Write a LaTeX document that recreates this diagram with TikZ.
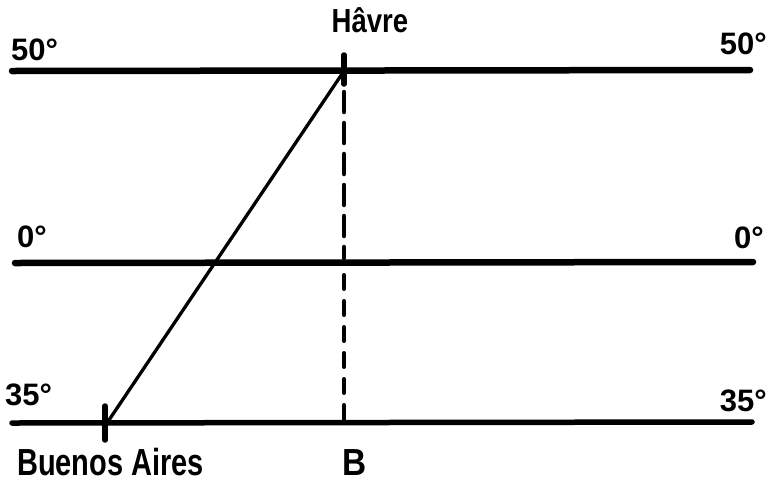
\documentclass[tikz,border=0pt]{standalone}
\usepackage{fontspec}
\usepackage{graphicx}
\setmainfont{Liberation Sans}
\begin{document}
\begin{tikzpicture}[x=1pt,y=-1pt,
  parallel/.style={line width=6.5pt,line cap=round},
  tickmark/.style={line width=5.5pt,line cap=round},
  route/.style={line width=3.3pt,line cap=round},
  meridianA/.style={line width=4.5pt,line cap=round,dash pattern=on 20pt off 11pt},
  meridianB/.style={line width=4pt,line cap=round,dash pattern=on 14pt off 12pt},
  lbl/.style={inner sep=0pt,font=\fontsize{31}{33}\selectfont\bfseries},
  placename/.style={inner sep=0pt,font=\fontsize{29}{31}\selectfont\bfseries}]
\useasboundingbox (0,0) rectangle (776,483);
% parallels
\coordinate (t1) at (12,71);  \coordinate (t2) at (750,70);
\coordinate (m1) at (15,263); \coordinate (m2) at (753,262);
\coordinate (b1) at (12,423); \coordinate (b2) at (752,422);
\draw[parallel] (t1) -- (t2);
\draw[parallel] (m1) -- (m2);
\draw[parallel,line width=5.5pt] (b1) -- (b2);
% points
\coordinate (H) at (344,71);
\coordinate (Hm) at (344,258);
\coordinate (Bp) at (344,423);
\coordinate (BA) at (107,423);
\coordinate (Ht) at (344,55); \coordinate (Hb) at (344,84);
\coordinate (BAt) at (105,406); \coordinate (BAb) at (105,440);
\coordinate (Hd) at (344,92);
\coordinate (Md) at (344,275);
\draw[tickmark] (Ht) -- (Hb);
\draw[tickmark] (BAt) -- (BAb);
\draw[route] (BA) -- (H);
\draw[meridianA] (Hd) -- (Hm);
\draw[meridianB] (Md) -- (Bp);
% labels
\node[lbl,anchor=base west] (l50) at (11,60) {50°};
\node[lbl,anchor=base east] (r50) at (767,54) {50°};
\node[lbl,anchor=base west] (l0) at (17,247) {0°};
\node[lbl,anchor=base east] (r0) at (764,248) {0°};
\node[lbl,anchor=base west] (l35) at (5,405) {35°};
\node[lbl,anchor=base east] (r35) at (767,411) {35°};
\node[placename,anchor=base] (havre) at (370,32) {\scalebox{0.95}[1.15]{Hâvre}};
\node[placename,anchor=base west] (ba) at (17,475) {\scalebox{1}[1.3]{Buenos Aires}};
\node[placename,anchor=base] (B) at (355,475) {\scalebox{1.15}[1.3]{B}};
\end{tikzpicture}
\end{document}
